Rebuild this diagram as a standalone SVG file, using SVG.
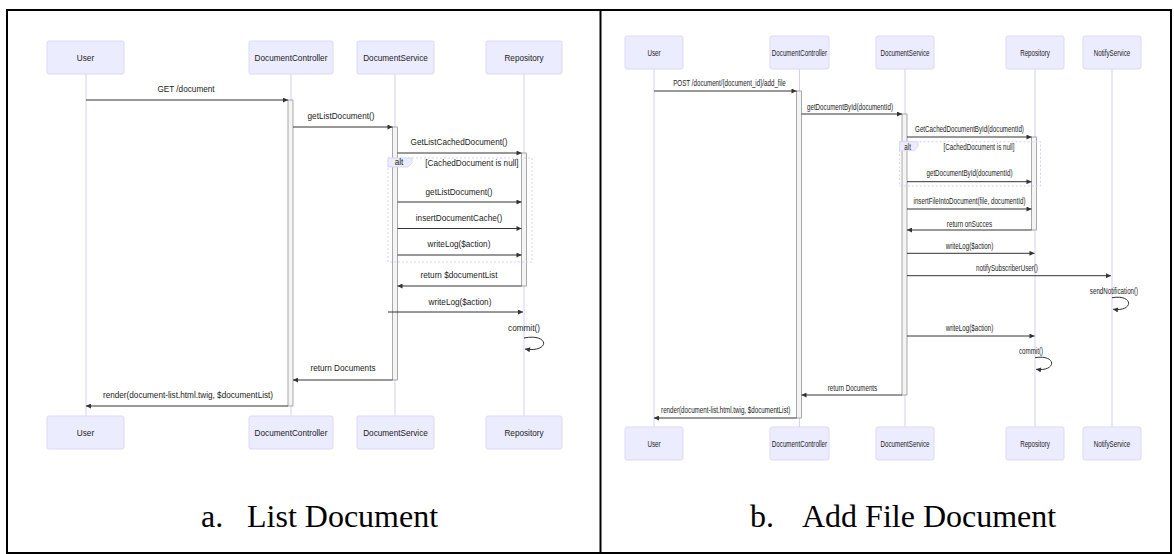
<svg xmlns="http://www.w3.org/2000/svg" width="1174" height="554" viewBox="0 0 1174 554">
<style>
.actor{fill:#ECECFF;stroke:#DDD8F6;stroke-width:1}
.life{stroke:#D6CFF5;stroke-width:1}
.msg{stroke:#333;stroke-width:1;fill:none}
.act{fill:#F4F4F4;stroke:#888;stroke-width:0.7}
.alt{fill:none;stroke:#D6CFF5;stroke-dasharray:2 2;stroke-width:1}
.altlab{fill:#ECECFF;stroke:#D6CFF5;stroke-width:0.8}
.t{font-family:"Liberation Sans",Arial,sans-serif;font-size:8.2px;fill:#222;text-anchor:middle}
.cap{font-family:"Liberation Serif","Times New Roman",serif;font-size:32px;fill:#000}
.frame{stroke:#000;stroke-width:2;fill:none}
</style>
<defs>
<marker id="ah" viewBox="0 0 10 10" refX="10" refY="5" markerWidth="6" markerHeight="5" markerUnits="userSpaceOnUse" orient="auto">
<path d="M0,0 L10,5 L0,10 z" fill="#333"/>
</marker>
</defs>
<rect width="1174" height="554" fill="#fff"/>
<g id="frame">
<rect class="frame" x="7" y="10" width="1164" height="543"/>
<line class="frame" x1="600.5" y1="10" x2="600.5" y2="553" stroke-width="2.5"/>
</g>

<!-- LEFT DIAGRAM -->
<g id="L-user">
<line class="life" x1="86" y1="74" x2="86" y2="416"/>
<rect class="actor" x="47" y="41" width="77" height="33" rx="2"/>
<text class="t" x="85.5" y="60.5">User</text>
<rect class="actor" x="47" y="416" width="77" height="33" rx="2"/>
<text class="t" x="85.5" y="435.5">User</text>
</g>
<g id="L-controller">
<line class="life" x1="291" y1="74" x2="291" y2="416"/>
<rect class="actor" x="249" y="41" width="84" height="33" rx="2"/>
<text class="t" x="291" y="60.5">DocumentController</text>
<rect class="actor" x="249" y="416" width="84" height="33" rx="2"/>
<text class="t" x="291" y="435.5">DocumentController</text>
</g>
<g id="L-service">
<line class="life" x1="395" y1="74" x2="395" y2="416"/>
<rect class="actor" x="357" y="41" width="77" height="33" rx="2"/>
<text class="t" x="395.5" y="60.5">DocumentService</text>
<rect class="actor" x="357" y="416" width="77" height="33" rx="2"/>
<text class="t" x="395.5" y="435.5">DocumentService</text>
</g>
<g id="L-repo">
<line class="life" x1="524" y1="74" x2="524" y2="416"/>
<rect class="actor" x="486" y="41" width="76" height="33" rx="2"/>
<text class="t" x="524" y="60.5">Repository</text>
<rect class="actor" x="486" y="416" width="76" height="33" rx="2"/>
<text class="t" x="524" y="435.5">Repository</text>
</g>
<g id="L-activations">
<rect class="act" x="288" y="100" width="5" height="306"/>
<rect class="act" x="392.5" y="127" width="5" height="253"/>
<rect class="act" x="521.5" y="153" width="5" height="133"/>
</g>
<g id="L-alt">
<rect class="alt" x="388" y="158" width="144" height="104"/>
<polygon class="altlab" points="388,158 412,158 412,163 408,167 388,167"/>
<text class="t" x="399" y="165">alt</text>
<text class="t" x="472" y="166">[CachedDocument is null]</text>
</g>
<g id="L-connectors">
<text class="t" x="186" y="92">GET /document</text>
<line class="msg" x1="86" y1="100" x2="288" y2="100" marker-end="url(#ah)"/>
<text class="t" x="341" y="119">getListDocument()</text>
<line class="msg" x1="293" y1="127" x2="392.5" y2="127" marker-end="url(#ah)"/>
<text class="t" x="459" y="145">GetListCachedDocument()</text>
<line class="msg" x1="397.5" y1="153" x2="521.5" y2="153" marker-end="url(#ah)"/>
<text class="t" x="459" y="194.5">getListDocument()</text>
<line class="msg" x1="397.5" y1="202" x2="521.5" y2="202" marker-end="url(#ah)"/>
<text class="t" x="459" y="221">insertDocumentCache()</text>
<line class="msg" x1="397.5" y1="228.5" x2="521.5" y2="228.5" marker-end="url(#ah)"/>
<text class="t" x="459" y="247">writeLog($action)</text>
<line class="msg" x1="397.5" y1="255" x2="521.5" y2="255" marker-end="url(#ah)"/>
<text class="t" x="459" y="278">return $documentList</text>
<line class="msg" x1="521.5" y1="286" x2="397.5" y2="286" marker-end="url(#ah)"/>
<text class="t" x="460" y="304.5">writeLog($action)</text>
<line class="msg" x1="388" y1="312" x2="523" y2="312" marker-end="url(#ah)"/>
<text class="t" x="524" y="331">commit()</text>
<path class="msg" d="M524,338 C550,333 550,353 525,349" marker-end="url(#ah)"/>
<text class="t" x="343" y="371">return Documents</text>
<line class="msg" x1="392.5" y1="380" x2="293" y2="380" marker-end="url(#ah)"/>
<text class="t" x="188" y="398">render(document-list.html.twig, $documentList)</text>
<line class="msg" x1="288" y1="406" x2="86" y2="406" marker-end="url(#ah)"/>
</g>

<!-- RIGHT DIAGRAM -->
<g id="R-user">
<line class="life" x1="654" y1="69" x2="654" y2="427"/>
<rect class="actor" x="625" y="36" width="58" height="33" rx="2"/>
<text class="t" transform="translate(654 55.5) scale(0.76 1)">User</text>
<rect class="actor" x="625" y="427" width="58" height="33" rx="2"/>
<text class="t" transform="translate(654 446.5) scale(0.76 1)">User</text>
</g>
<g id="R-controller">
<line class="life" x1="799.5" y1="69" x2="799.5" y2="427"/>
<rect class="actor" x="770" y="36" width="59" height="33" rx="2"/>
<text class="t" transform="translate(799.5 55.5) scale(0.76 1)">DocumentController</text>
<rect class="actor" x="770" y="427" width="59" height="33" rx="2"/>
<text class="t" transform="translate(799.5 446.5) scale(0.76 1)">DocumentController</text>
</g>
<g id="R-service">
<line class="life" x1="905" y1="69" x2="905" y2="427"/>
<rect class="actor" x="876" y="36" width="58" height="33" rx="2"/>
<text class="t" transform="translate(905 55.5) scale(0.76 1)">DocumentService</text>
<rect class="actor" x="876" y="427" width="58" height="33" rx="2"/>
<text class="t" transform="translate(905 446.5) scale(0.76 1)">DocumentService</text>
</g>
<g id="R-repo">
<line class="life" x1="1035" y1="69" x2="1035" y2="427"/>
<rect class="actor" x="1006" y="36" width="58" height="33" rx="2"/>
<text class="t" transform="translate(1035 55.5) scale(0.76 1)">Repository</text>
<rect class="actor" x="1006" y="427" width="58" height="33" rx="2"/>
<text class="t" transform="translate(1035 446.5) scale(0.76 1)">Repository</text>
</g>
<g id="R-notify">
<line class="life" x1="1112" y1="69" x2="1112" y2="427"/>
<rect class="actor" x="1083" y="36" width="58" height="33" rx="2"/>
<text class="t" transform="translate(1112 55.5) scale(0.76 1)">NotifyService</text>
<rect class="actor" x="1083" y="427" width="58" height="33" rx="2"/>
<text class="t" transform="translate(1112 446.5) scale(0.76 1)">NotifyService</text>
</g>
<g id="R-activations">
<rect class="act" x="796.5" y="91" width="5" height="327"/>
<rect class="act" x="902" y="114" width="5" height="281"/>
<rect class="act" x="1031.5" y="137" width="5" height="93"/>
</g>
<g id="R-alt">
<rect class="alt" x="899.5" y="141.7" width="141" height="44.3"/>
<polygon class="altlab" points="899.5,141.7 918,141.7 918,146 914.5,150.7 899.5,150.7"/>
<text class="t" transform="translate(907.6 149.5) scale(0.76 1)">alt</text>
<text class="t" transform="translate(979 150) scale(0.76 1)">[CachedDocument is null]</text>
</g>
<g id="R-connectors">
<text class="t" transform="translate(729.5 86) scale(0.76 1)">POST /document/{document_id}/add_file</text>
<line class="msg" x1="654" y1="91" x2="796.5" y2="91" marker-end="url(#ah)"/>
<text class="t" transform="translate(850 109.5) scale(0.76 1)">getDocumentById(documentId)</text>
<line class="msg" x1="801.5" y1="114" x2="902" y2="114" marker-end="url(#ah)"/>
<text class="t" transform="translate(969.5 131.5) scale(0.76 1)">GetCachedDocumentById(documentId)</text>
<line class="msg" x1="907" y1="137" x2="1031.5" y2="137" marker-end="url(#ah)"/>
<text class="t" transform="translate(969.5 176.3) scale(0.76 1)">getDocumentById(documentId)</text>
<line class="msg" x1="907" y1="181.7" x2="1031.5" y2="181.7" marker-end="url(#ah)"/>
<text class="t" transform="translate(969.5 204) scale(0.76 1)">insertFileIntoDocument(file, documentId)</text>
<line class="msg" x1="907" y1="209" x2="1031.5" y2="209" marker-end="url(#ah)"/>
<text class="t" transform="translate(969.5 227.3) scale(0.76 1)">return onSucces</text>
<line class="msg" x1="1031.5" y1="230" x2="907" y2="230" marker-end="url(#ah)"/>
<text class="t" transform="translate(969.5 249) scale(0.76 1)">writeLog($action)</text>
<line class="msg" x1="907" y1="253.3" x2="1034.5" y2="253.3" marker-end="url(#ah)"/>
<text class="t" transform="translate(1007 271) scale(0.76 1)">notifySubscriberUser()</text>
<line class="msg" x1="907" y1="275.7" x2="1111" y2="275.7" marker-end="url(#ah)"/>
<text class="t" transform="translate(1114 294) scale(0.76 1)">sendNotification()</text>
<path class="msg" d="M1112,297.7 C1134,294 1134,312 1113,309.3" marker-end="url(#ah)"/>
<text class="t" transform="translate(969.5 331.3) scale(0.76 1)">writeLog($action)</text>
<line class="msg" x1="907" y1="336" x2="1034.5" y2="336" marker-end="url(#ah)"/>
<text class="t" transform="translate(1031 353.7) scale(0.76 1)">commit()</text>
<path class="msg" d="M1035,357.7 C1057,354 1057,372 1036,369.3" marker-end="url(#ah)"/>
<text class="t" transform="translate(852.5 391.3) scale(0.76 1)">return Documents</text>
<line class="msg" x1="902" y1="395" x2="801.5" y2="395" marker-end="url(#ah)"/>
<text class="t" transform="translate(725.7 413) scale(0.76 1)">render(document-list.html.twig, $documentList)</text>
<line class="msg" x1="796.5" y1="418" x2="654" y2="418" marker-end="url(#ah)"/>
</g>

<g id="captions">
<text class="cap" y="527"><tspan x="201">a.</tspan><tspan x="247">List Document</tspan></text>
<text class="cap" y="527"><tspan x="750">b.</tspan><tspan x="802">Add File Document</tspan></text>
</g>
</svg>
